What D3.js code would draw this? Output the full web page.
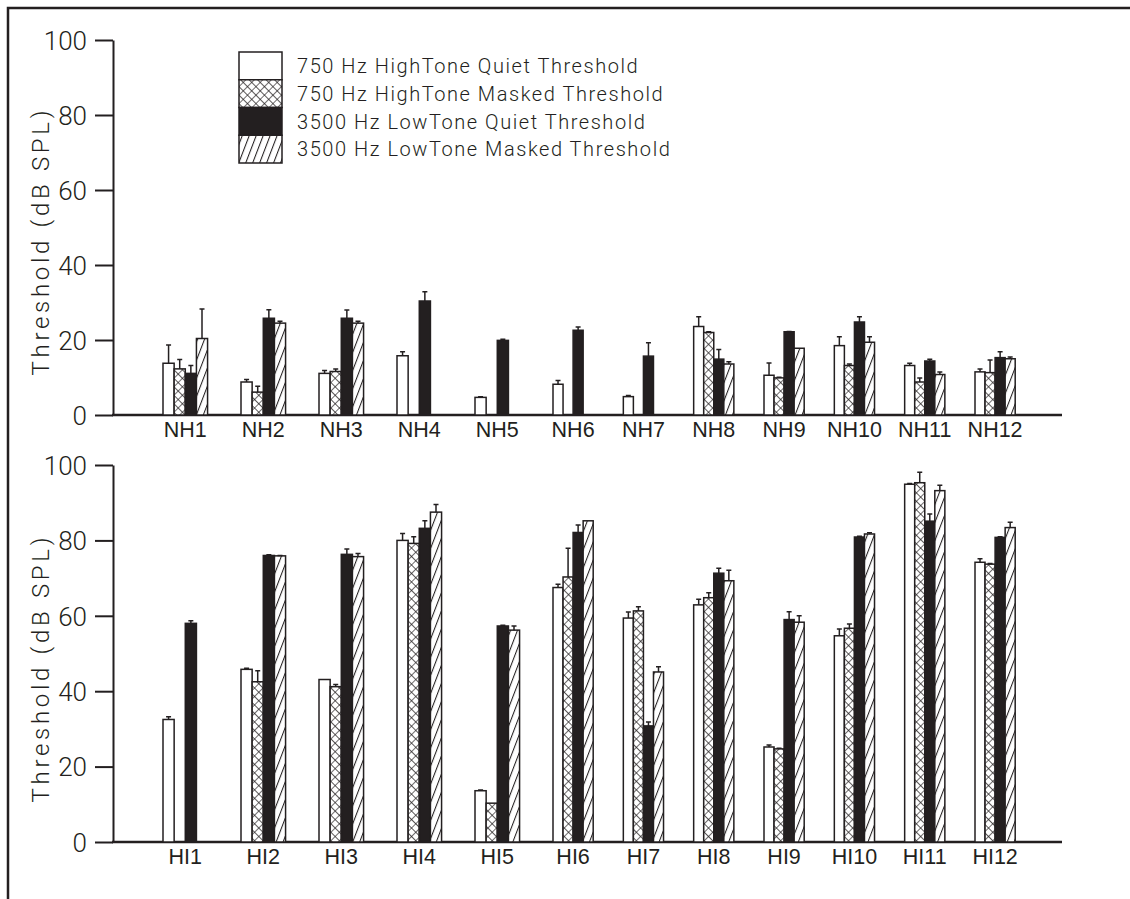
<!DOCTYPE html>
<html>
<head>
<meta charset="utf-8">
<script src="https://cdn.jsdelivr.net/npm/d3@7"></script>
<style>
  body { margin: 0; background: #fff; }
  .tick text { font-family: Roboto, "DejaVu Sans", sans-serif; font-weight: 300; }
</style>
</head>
<body>
<svg id="chart" width="1130" height="899"></svg>
<script>
// categories
var nhNames = ["NH1","NH2","NH3","NH4","NH5","NH6","NH7","NH8","NH9","NH10","NH11","NH12"];
var hiNames = ["HI1","HI2","HI3","HI4","HI5","HI6","HI7","HI8","HI9","HI10","HI11","HI12"];
var seriesNames = ["750 Hz HighTone Quiet Threshold", "750 Hz HighTone Masked Threshold",
                   "3500 Hz LowTone Quiet Threshold", "3500 Hz LowTone Masked Threshold"];
var yTicks = [0, 20, 40, 60, 80, 100];

// normal hearing listeners (mean, error)
var nhQuiet750      = [13.8, 8.8, 11.1, 15.8, 4.7, 8.2, 4.9, 23.6, 10.6, 18.5, 13.2, 11.5];
var nhQuiet750Err   = [4.9, 0.7, 0.8, 1.1, 0.2, 1.0, 0.3, 2.6, 3.3, 2.4, 0.6, 0.8];
var nhMasked750     = [12.3, 6.1, 11.6, null, null, null, null, 22.0, 9.9, 13.2, 8.8, 11.3];
var nhMasked750Err  = [2.5, 1.6, 0.7, null, null, null, null, 0.2, 0.2, 0.4, 1.1, 3.4];
var nhQuiet3500     = [11.1, 25.8, 25.8, 30.4, 19.9, 22.6, 15.7, 14.9, 22.2, 24.8, 14.4, 15.3];
var nhQuiet3500Err  = [2.1, 2.3, 2.2, 2.5, 0.3, 0.9, 3.6, 2.6, 0.1, 1.4, 0.5, 1.6];
var nhMasked3500    = [20.4, 24.5, 24.5, null, null, null, null, 13.6, 17.8, 19.4, 10.8, 15.0];
var nhMasked3500Err = [7.9, 0.5, 0.5, null, null, null, null, 0.6, 0, 1.5, 0.7, 0.5];

// hearing impaired listeners
var hiQuiet750      = [32.5, 45.8, 43.1, 80.0, 13.6, 67.5, 59.4, 62.9, 25.2, 54.7, 94.9, 74.2];
var hiQuiet750Err   = [0.7, 0.3, 0, 1.8, 0.2, 0.9, 1.6, 1.5, 0.5, 1.8, 0.2, 0.9];
var hiMasked750     = [null, 42.5, 41.2, 79.2, 10.3, 70.3, 61.3, 64.8, 24.7, 56.7, 95.3, 73.7];
var hiMasked750Err  = [null, 2.9, 0.6, 1.8, 0, 7.6, 1.1, 1.3, 0.2, 1.1, 2.8, 0.2];
var hiQuiet3500     = [58.0, 76.0, 76.3, 83.2, 57.3, 82.1, 30.8, 71.3, 59.0, 80.9, 85.1, 80.8];
var hiQuiet3500Err  = [0.7, 0.2, 1.4, 2.0, 0.2, 2.0, 1.0, 1.3, 2.1, 0.2, 1.9, 0.2];
var hiMasked3500    = [null, 75.9, 75.7, 87.5, 56.2, 85.2, 45.1, 69.3, 58.3, 81.7, 93.2, 83.4];
var hiMasked3500Err = [null, 0.1, 0.8, 2.0, 1.1, 0, 1.4, 2.8, 1.7, 0.3, 1.4, 1.4];

var svg = d3.select("#chart");
var ink = "#231f20";
var fills = ["#fff", "url(#cross)", ink, "url(#hatch)"];

var defs = svg.append("defs");
var cross = defs.append("pattern").attr("id", "cross")
    .attr("patternUnits", "userSpaceOnUse").attr("width", 6).attr("height", 6)
    .attr("patternTransform", "rotate(45)");
cross.append("rect").attr("width", 6).attr("height", 6).attr("fill", "#fff");
cross.append("path").attr("d", "M0,0V6M0,0H6").attr("stroke", ink).attr("stroke-width", 1.3);

var hatch = defs.append("pattern").attr("id", "hatch")
    .attr("patternUnits", "userSpaceOnUse").attr("width", 6.5).attr("height", 10)
    .attr("patternTransform", "rotate(21)");
hatch.append("rect").attr("width", 6.5).attr("height", 10).attr("fill", "#fff");
hatch.append("path").attr("d", "M0.5,0V10").attr("stroke", ink).attr("stroke-width", 1.1);

// frame (top and left only)
svg.append("path").attr("d", "M8,899V8H1130").attr("fill", "none")
    .attr("stroke", ink).attr("stroke-width", 2.5);

// group left edges: spacing is wider on the left half of the original
var gx = d3.scaleLinear().domain([0, 5, 11]).range([163, 553, 975]);
function barW(i) {
    var j = i < 11 ? i : 10;
    return (gx(j + 1) - gx(j)) / 7;
}

function panel(names, vals, errs, y0, y1) {
    var y = d3.scaleLinear().domain([0, 100]).range([y0, y1]);
    var g = svg.append("g");

    g.append("g")
        .attr("transform", "translate(113,0)")
        .call(d3.axisLeft(y).tickValues(yTicks).tickSize(18).tickSizeOuter(0).tickPadding(8))
        .call(function (a) {
            a.select(".domain").attr("stroke", ink).attr("stroke-width", 2);
            a.selectAll(".tick line").attr("stroke", ink).attr("stroke-width", 2);
            a.selectAll(".tick text").attr("fill", ink).attr("font-size", 26).attr("dy", "0.36em");
        });

    g.append("line").attr("x1", 112).attr("x2", 1062).attr("y1", y(0)).attr("y2", y(0))
        .attr("stroke", ink).attr("stroke-width", 2.5);

    g.append("text")
        .attr("transform", "translate(49," + (y(0) - 172) + ") rotate(-90)")
        .attr("text-anchor", "middle")
        .attr("font-family", "Roboto, 'DejaVu Sans', sans-serif").attr("font-weight", 300)
        .attr("font-size", 24).attr("fill", ink)
        .attr("textLength", 265).attr("lengthAdjust", "spacing")
        .text("Threshold (dB SPL)");

    names.forEach(function (name, i) {
        var bw = barW(i);
        var left = gx(i);
        vals.forEach(function (s, k) {
            var v = s[i];
            if (v == null) return;
            var x = left + k * bw;
            g.append("rect")
                .attr("x", x).attr("y", y(v))
                .attr("width", bw).attr("height", y(0) - y(v))
                .attr("fill", fills[k]).attr("stroke", ink).attr("stroke-width", 1.5);
            var e = errs[k][i];
            if (e > 0) {
                var cx = x + bw / 2;
                g.append("path")
                    .attr("d", "M" + cx + "," + y(v) + "V" + y(v + e) + "M" + (cx - 2.5) + "," + y(v + e) + "H" + (cx + 2.5))
                    .attr("fill", "none").attr("stroke", ink).attr("stroke-width", 1.5);
            }
        });
        g.append("text")
            .attr("x", left + 2 * bw).attr("y", y(0) + 22)
            .attr("text-anchor", "middle")
            .attr("font-family", "'Liberation Sans', Arial, sans-serif")
            .attr("font-size", 21.5).attr("fill", ink)
            .text(name);
    });
}

panel(nhNames, [nhQuiet750, nhMasked750, nhQuiet3500, nhMasked3500],
      [nhQuiet750Err, nhMasked750Err, nhQuiet3500Err, nhMasked3500Err], 415, 40);
panel(hiNames, [hiQuiet750, hiMasked750, hiQuiet3500, hiMasked3500],
      [hiQuiet750Err, hiMasked750Err, hiQuiet3500Err, hiMasked3500Err], 842, 465);

// legend
var legend = svg.append("g").attr("transform", "translate(239,52)");
seriesNames.forEach(function (name, k) {
    legend.append("rect").attr("x", 0).attr("y", k * 27.75)
        .attr("width", 43).attr("height", 27.75)
        .attr("fill", fills[k]).attr("stroke", ink).attr("stroke-width", 1.5);
    legend.append("text").attr("x", 58).attr("y", k * 27.75 + 21)
        .attr("font-family", "Roboto, 'DejaVu Sans', sans-serif").attr("font-weight", 300)
        .attr("font-size", 20).attr("letter-spacing", 1.55).attr("fill", ink)
        .text(name);
});
</script>
</body>
</html>
